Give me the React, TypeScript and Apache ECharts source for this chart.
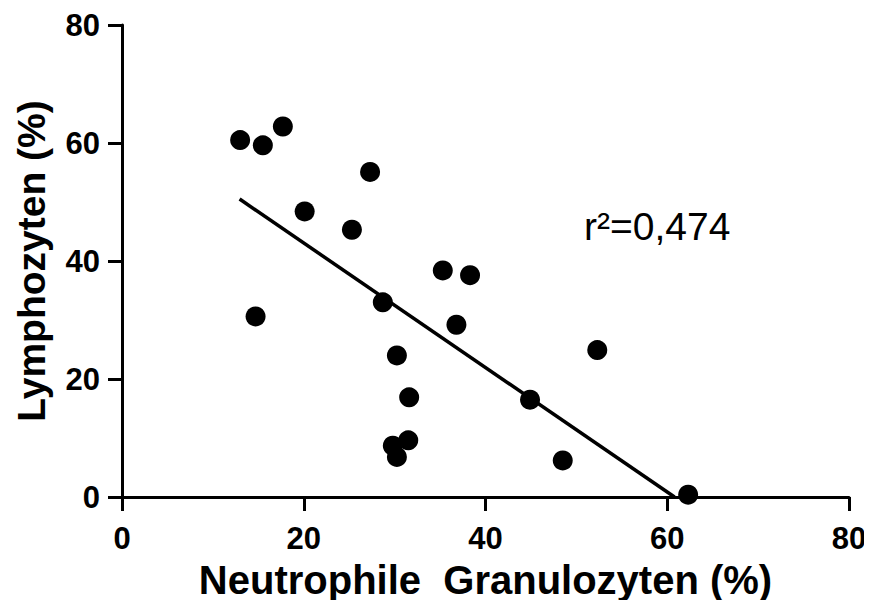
import React, { useEffect, useRef } from "react";
import * as echarts from "echarts";

const neutrophile: number[] = [13.0, 15.5, 17.7, 27.3, 20.1, 25.3, 14.7, 35.3, 38.3, 28.7, 36.8, 30.25, 52.3, 31.6, 44.9, 31.5, 29.8, 30.25, 48.5, 62.3];
const lymphozyten: number[] = [60.5, 59.6, 62.8, 55.1, 48.4, 45.3, 30.6, 38.4, 37.6, 33.0, 29.2, 24.0, 24.9, 16.9, 16.5, 9.6, 8.7, 6.8, 6.2, 0.4];
const regressionX: number[] = [12.94, 60.8];
const regressionY: number[] = [50.5, 0];
const xTicks: number[] = [0, 20, 40, 60, 80];
const yTicks: number[] = [0, 20, 40, 60, 80];
const xTitle = "Neutrophile  Granulozyten (%)";
const yTitle = "Lymphozyten (%)";
const rSquaredLabel = "r²=0,474";

export default function App() {
  const ref = useRef<HTMLDivElement>(null);
  useEffect(() => {
    if (!ref.current) return;
    const chart = echarts.init(ref.current, null, { renderer: "svg" });
    const font = "Liberation Sans, Arial, sans-serif";
    const axisCommon = {
      axisLine: { show: true, lineStyle: { color: "#000", width: 3 } },
      axisTick: { show: true, length: 14, lineStyle: { color: "#000", width: 3 } },
      splitLine: { show: false },
    };
    chart.setOption({
      animation: false,
      backgroundColor: "#fff",
      grid: { left: 122, right: 23, top: 25, bottom: 111, outerBoundsMode: "none", containLabel: false },
      xAxis: {
        type: "value",
        min: xTicks[0],
        max: xTicks[xTicks.length - 1],
        interval: xTicks[1] - xTicks[0],
        ...axisCommon,
        axisLabel: { color: "#000", fontSize: 31, fontWeight: "bold", fontFamily: font, margin: 26 },
        name: xTitle,
        nameLocation: "middle",
        nameGap: 63,
        nameTextStyle: { color: "#000", fontSize: 40, fontWeight: "bold", fontFamily: font },
      },
      yAxis: {
        type: "value",
        min: yTicks[0],
        max: yTicks[yTicks.length - 1],
        interval: yTicks[1] - yTicks[0],
        ...axisCommon,
        axisLabel: { color: "#000", fontSize: 31, fontWeight: "bold", fontFamily: font, margin: 22 },
        name: yTitle,
        nameLocation: "middle",
        nameGap: 71,
        nameRotate: 90,
        nameTextStyle: { color: "#000", fontSize: 39, fontWeight: "bold", fontFamily: font },
      },
      graphic: [
        {
          type: "text",
          left: 584,
          top: 207,
          style: { text: rSquaredLabel, fill: "#000", fontSize: 39, fontFamily: font },
        },
      ],
      series: [
        {
          type: "line",
          data: regressionX.map((x, i) => [x, regressionY[i]]),
          showSymbol: false,
          lineStyle: { color: "#000", width: 3.5 },
          silent: true,
          z: 2,
        },
        {
          type: "scatter",
          data: neutrophile.map((x, i) => [x, lymphozyten[i]]),
          symbol: "circle",
          symbolSize: 20,
          itemStyle: { color: "#000", opacity: 1 },
          z: 3,
        },
      ],
    });
    return () => chart.dispose();
  }, []);
  return <div ref={ref} style={{ width: 872, height: 608, margin: -8 }} />;
}
